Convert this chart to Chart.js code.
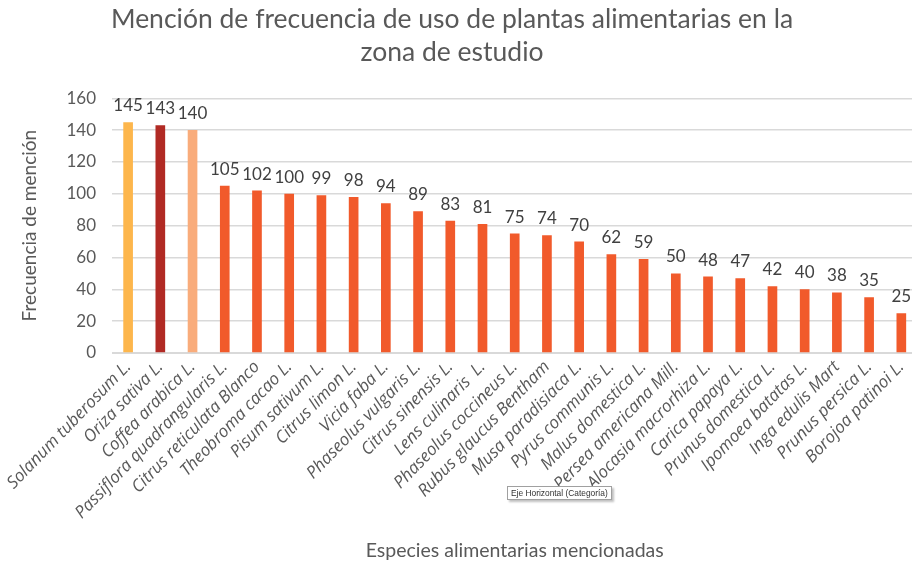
<!DOCTYPE html>
<html>
<head>
<meta charset="utf-8">
<script src="https://cdn.jsdelivr.net/npm/chart.js@4"></script>
<style>
  html, body { margin: 0; padding: 0; background: #fff; overflow: hidden; }
  #wrap { position: relative; width: 912px; height: 565px; overflow: hidden; }
  #tip {
    position: absolute; left: 507px; top: 486px;
    font: 8.4px "Liberation Sans", sans-serif; color: #333;
    background: #fff; border: 1px solid #a0a0a0; padding: 1px 3px;
    box-shadow: 2px 2px 2px rgba(0,0,0,0.25);
  }
</style>
</head>
<body>
<div id="wrap">
  <canvas id="chart" width="920" height="565"></canvas>
  <div id="tip">Eje Horizontal (Categoría)</div>
</div>
<script>
const species = [
  "Solanum tuberosum L.", "Oriza sativa L.", "Coffea arabica L.",
  "Passiflora quadrangularis L.", "Citrus reticulata Blanco", "Theobroma cacao L.",
  "Pisum sativum L.", "Citrus limon L.", "Vicia faba L.", "Phaseolus vulgaris L.",
  "Citrus sinensis L.", "Lens culinaris  L.", "Phaseolus coccineus L.",
  "Rubus glaucus Bentham", "Musa paradisiaca L.", "Pyrus communis L.",
  "Malus domestica L.", "Persea americana Mill.", "Alocasia macrorhiza L.",
  "Carica papaya L.", "Prunus domestica L.", "Ipomoea batatas L.",
  "Inga edulis Mart", "Prunus persica L.", "Borojoa patinoi L."
];
const mentions = [145, 143, 140, 105, 102, 100, 99, 98, 94, 89, 83, 81, 75, 74, 70, 62, 59, 50, 48, 47, 42, 40, 38, 35, 25];
const yTicks = [0, 20, 40, 60, 80, 100, 120, 140, 160];

const barColors = mentions.map((v, i) => {
  if (i === 0) return "#fdb64c";
  if (i === 1) return "#b12a24";
  if (i === 2) return "#f9ac7b";
  return "#f15a2b";
});

// value labels above each bar
const valueLabels = {
  id: "valueLabels",
  afterDatasetsDraw(chart) {
    const ctx = chart.ctx;
    const meta = chart.getDatasetMeta(0);
    ctx.save();
    ctx.font = "17px Lato";
    ctx.fillStyle = "#404040";
    ctx.textAlign = "center";
    ctx.textBaseline = "bottom";
    meta.data.forEach((bar, i) => {
      ctx.fillText(mentions[i], bar.x, bar.y - 8);
    });
    ctx.restore();
  }
};

const ctx = document.getElementById("chart").getContext("2d");
new Chart(ctx, {
  type: "bar",
  data: {
    labels: species,
    datasets: [{
      data: mentions,
      backgroundColor: barColors,
      barPercentage: 0.6,
      categoryPercentage: 0.5
    }]
  },
  options: {
    responsive: false,
    animation: false,
    // negative left padding pulls the centred title a bit to the left
    layout: { padding: { left: -16, right: 0, top: 0, bottom: 0 } },
    plugins: {
      legend: { display: false },
      tooltip: { enabled: false },
      title: {
        display: true,
        text: ["Mención de frecuencia de uso de plantas alimentarias en la", "zona de estudio"],
        color: "#595959",
        font: { family: "Lato", size: 26.5, weight: "normal", lineHeight: 1.25 },
        padding: { top: 3, bottom: 29 }
      }
    },
    scales: {
      x: {
        grid: { display: false, drawTicks: false },
        border: { display: true, color: "#d9d9d9" },
        ticks: {
          color: "#595959",
          font: { family: "Open Sans", size: 17, style: "italic" },
          minRotation: 46,
          maxRotation: 46,
          autoSkip: false,
          padding: 4
        },
        title: {
          display: true,
          text: "Especies alimentarias mencionadas",
          color: "#595959",
          font: { family: "Lato", size: 19.5 },
          padding: { top: 0, bottom: 3 }
        },
        afterFit(scale) { scale.height = 212; }
      },
      y: {
        min: 0,
        max: 160,
        afterBuildTicks(scale) { scale.ticks = yTicks.map(v => ({ value: v })); },
        grid: { color: "#d9d9d9", drawTicks: false, lineWidth: 1.5 },
        border: { display: false },
        ticks: {
          color: "#595959",
          font: { family: "Lato", size: 17 },
          padding: 16
        },
        title: {
          display: true,
          text: "Frecuencia de mención",
          color: "#595959",
          font: { family: "Lato", size: 19 },
          padding: { top: 34, bottom: 0 }
        },
        afterFit(scale) { scale.width = 128; }
      }
    }
  },
  plugins: [valueLabels]
});
</script>
</body>
</html>
